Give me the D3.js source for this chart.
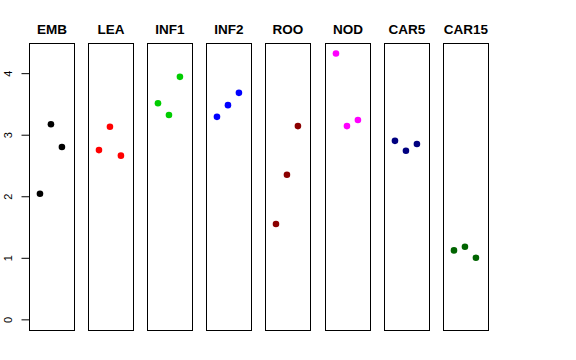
<!DOCTYPE html>
<html><head><meta charset="utf-8">
<script src="https://cdn.jsdelivr.net/npm/d3@7"></script>
<style>body{margin:0;background:#fff}</style>
</head><body>
<script>
const categories = ["EMB","LEA","INF1","INF2","ROO","NOD","CAR5","CAR15"];
const colors = ["#000000","#FF0000","#00CD00","#0000FF","#8B0000","#FF00FF","#000080","#006400"];
const rep1 = [2.04, 2.75, 3.51, 3.29, 1.55, 4.32, 2.90, 1.12];
const rep2 = [3.17, 3.13, 3.32, 3.48, 2.35, 3.14, 2.74, 1.18];
const rep3 = [2.80, 2.66, 3.94, 3.68, 3.14, 3.24, 2.85, 1.00];
const yTicks = [0,1,2,3,4];

(function(){
const W=576,H=360;
const svg=d3.select("body").append("svg").attr("width",W).attr("height",H);
const pTop=43,pBottom=330;
const y=d3.scaleLinear().domain([-0.173,4.49]).range([pBottom,pTop]);
const panelX=d3.scaleBand().domain(categories).range([29,29+59.1*8]).paddingInner(0);
const pw=45;
const xIn=d3.scaleLinear().domain([0,4.1]).range([0,pw]);
const font="Liberation Sans, Arial, sans-serif";

categories.forEach((c,i)=>{
  const g=svg.append("g").attr("transform",`translate(${Math.round(panelX(c))},0)`);
  g.append("rect").attr("x",0.5).attr("y",pTop+0.5).attr("width",pw).attr("height",pBottom-pTop)
    .attr("fill","none").attr("stroke","#000").attr("stroke-width",1);
  g.append("text").attr("x",pw/2+0.5).attr("y",33.5).attr("text-anchor","middle")
    .attr("font-family",font).attr("font-weight","bold")
    .attr("font-size",13.5).text(c);
  const vals=[rep1[i],rep2[i],rep3[i]];
  g.selectAll("circle").data(vals).join("circle")
    .attr("cx",(d,j)=>xIn(j+1)).attr("cy",d=>y(d)).attr("r",3.3).attr("fill",colors[i]);
});

const ax=svg.append("g").attr("transform","translate(29.5,0)")
  .call(d3.axisLeft(y).tickValues(yTicks).tickSize(8).tickPadding(8).tickFormat(d3.format("d")));
ax.select(".domain").remove();
ax.selectAll("line").attr("stroke","#000");
ax.selectAll(".tick text").attr("font-family",font).attr("font-size",11).attr("fill","#000")
  .attr("x",null).attr("dy",null)
  .attr("transform","translate(-21,0) rotate(-90)").attr("dy","0.35em").attr("text-anchor","middle");
})();
</script>
</body></html>
